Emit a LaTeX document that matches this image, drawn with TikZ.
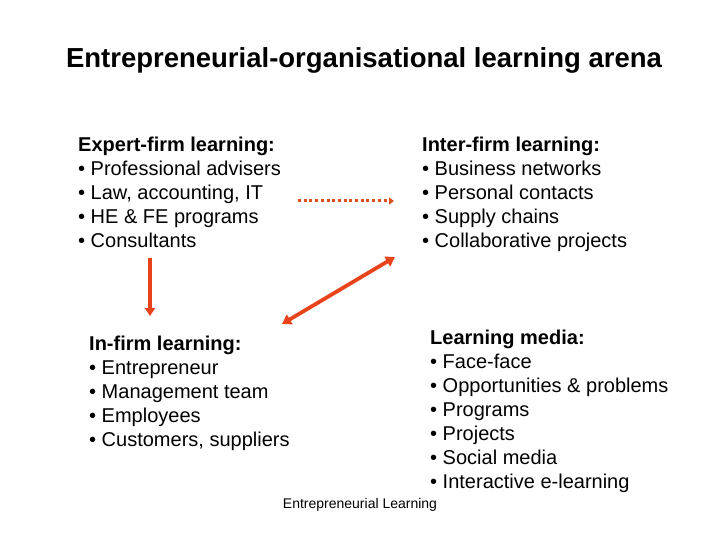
\documentclass[tikz,border=0pt]{standalone}
\usepackage{fontspec}
\setmainfont{Liberation Sans}
\usetikzlibrary{arrows.meta}
\definecolor{arr}{RGB}{232,68,28}
\definecolor{darr}{RGB}{220,80,30}
\tikzset{
  block/.style={anchor=north west, inner sep=0pt, align=left, font=\fontsize{20}{24}\selectfont},
  arrowline/.style={draw=arr, line width=3.3pt, -{Triangle[length=8pt,width=10pt]}},
}
\begin{document}
\begin{tikzpicture}[x=1pt,y=-1pt]
\useasboundingbox (0,0) rectangle (720,540);
\node[anchor=base, inner sep=0pt, font=\fontsize{27.5}{32}\selectfont\bfseries] (title) at (364,68) {Entrepreneurial-organisational learning arena};
\node[block] (expert) at (78,137) {\textbf{Expert-firm learning:}\\ • Professional advisers\\ • Law, accounting, IT\\ • HE \& FE programs\\ • Consultants};
\node[block] (inter) at (422,137) {\textbf{Inter-firm learning:}\\ • Business networks\\ • Personal contacts\\ • Supply chains\\ • Collaborative projects};
\node[block] (infirm) at (89,336) {\textbf{In-firm learning:}\\ • Entrepreneur\\ • Management team\\ • Employees\\ • Customers, suppliers};
\node[block] (media) at (430,330) {\textbf{Learning media:}\\ • Face-face\\ • Opportunities \& problems\\ • Programs\\ • Projects\\ • Social media\\ • Interactive e-learning};
\node[anchor=base, inner sep=0pt, font=\fontsize{14}{16}\selectfont] (foot) at (360,508) {Entrepreneurial Learning};
\coordinate (d1) at (298,201);
\coordinate (d2) at (394,201);
\coordinate (v1) at (150,258);
\coordinate (v2) at (150,316);
\coordinate (g1) at (282,324);
\coordinate (g2) at (395,257);
\draw[draw=darr, line width=3pt, dash pattern=on 3pt off 2.7pt, -{Triangle[length=5pt,width=7pt]}] (d1) -- (d2);
\draw[arrowline] (v1) -- (v2);
\draw[draw=arr, line width=3.8pt, {Triangle[length=9pt,width=11pt]}-{Triangle[length=9pt,width=11pt]}] (g1) -- (g2);
\end{tikzpicture}
\end{document}
